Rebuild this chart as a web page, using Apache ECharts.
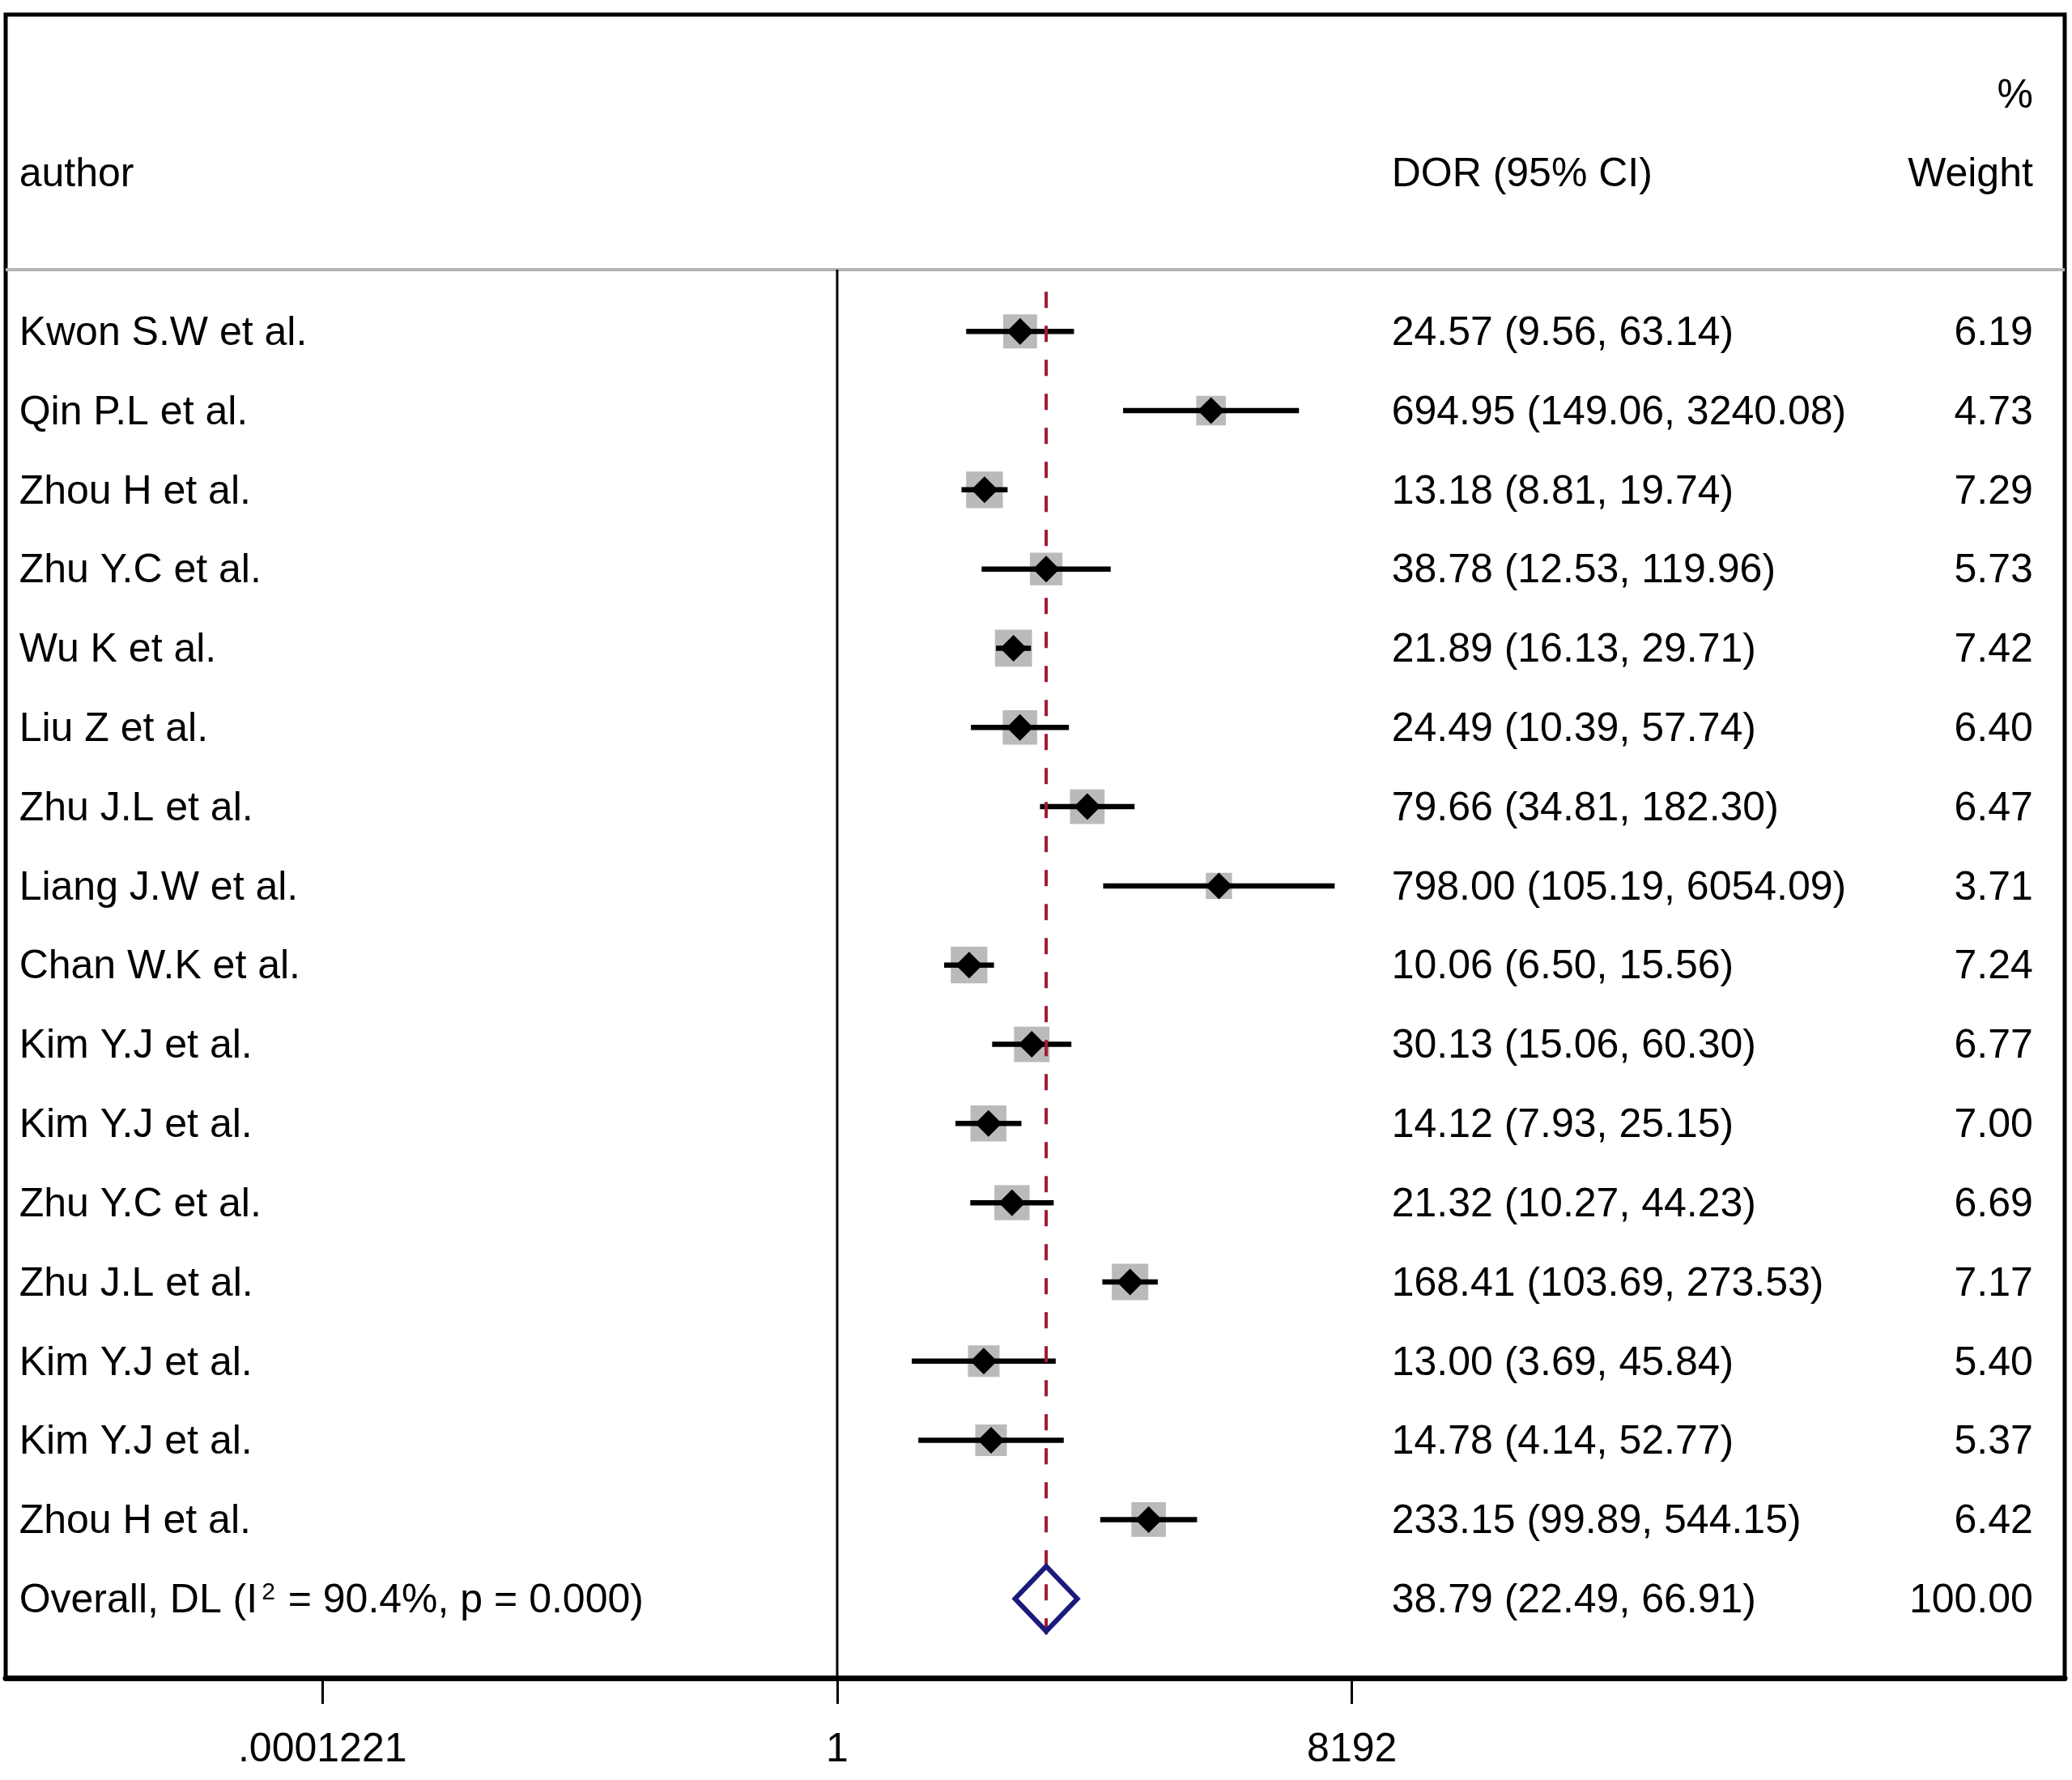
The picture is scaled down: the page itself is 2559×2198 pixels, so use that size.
<!DOCTYPE html>
<html>
<head>
<meta charset="utf-8">
<title>DOR forest plot</title>
<script src="https://cdn.jsdelivr.net/npm/echarts@6/dist/echarts.min.js"></script>
<style>
  html, body { margin: 0; padding: 0; background: #fff; }
  #main { width: 2559px; height: 2198px; }
</style>
</head>
<body>
<div id="main"></div>
<script>
// study data
var authors = ['Kwon S.W et al.', 'Qin P.L et al.', 'Zhou H et al.', 'Zhu Y.C et al.', 'Wu K et al.',
  'Liu Z et al.', 'Zhu J.L et al.', 'Liang J.W et al.', 'Chan W.K et al.', 'Kim Y.J et al.',
  'Kim Y.J et al.', 'Zhu Y.C et al.', 'Zhu J.L et al.', 'Kim Y.J et al.', 'Kim Y.J et al.', 'Zhou H et al.'];
var dor = [24.57, 694.95, 13.18, 38.78, 21.89, 24.49, 79.66, 798.00, 10.06, 30.13, 14.12, 21.32, 168.41, 13.00, 14.78, 233.15];
var ciLow = [9.56, 149.06, 8.81, 12.53, 16.13, 10.39, 34.81, 105.19, 6.50, 15.06, 7.93, 10.27, 103.69, 3.69, 4.14, 99.89];
var ciHigh = [63.14, 3240.08, 19.74, 119.96, 29.71, 57.74, 182.30, 6054.09, 15.56, 60.30, 25.15, 44.23, 273.53, 45.84, 52.77, 544.15];
var weight = [6.19, 4.73, 7.29, 5.73, 7.42, 6.40, 6.47, 3.71, 7.24, 6.77, 7.00, 6.69, 7.17, 5.40, 5.37, 6.42];

var overallDor = [38.79, 22.49, 66.91];   // estimate, lower, upper
var overallWeight = 100.00;
var i2 = 90.4, pValue = 0.000;

// axis ticks (log2 scale: 2^-13, 2^0, 2^13)
var tickPos = [-13, 0, 13];
var tickLabels = ['.0001221', '1', '8192'];

var FONT = "'Liberation Sans', Arial, sans-serif";
var FS = 50;

var log2 = function (v) { return Math.log(v) / Math.LN2; };
var nRows = authors.length;

// text column positions, in log2 units of the x axis
var colAuthor = -20.66, colDor = 14, colWeight = 30.2;
var TXT_DY = 3;

var studyRows = authors.map(function (a, i) {
  return {
    value: [i],
    label: a,
    ci: dor[i].toFixed(2) + ' (' + ciLow[i].toFixed(2) + ', ' + ciHigh[i].toFixed(2) + ')',
    w: weight[i].toFixed(2)
  };
});

var chart = echarts.init(document.getElementById('main'));

function txt(x, y, s, align, rich) {
  var st = { text: s, x: x, y: y + TXT_DY, fill: '#000', fontSize: FS, fontFamily: FONT, align: align, verticalAlign: 'middle' };
  if (rich) st.rich = rich;
  return { type: 'text', style: st, silent: true };
}

option = {
  animation: false,
  backgroundColor: '#fff',
  grid: {
    left: 7, right: 9, top: 18, bottom: 126,
    show: true, borderColor: '#000', borderWidth: 5,
    outerBoundsMode: 'none'
  },
  xAxis: {
    type: 'value', min: -21, max: 31,
    axisLine: { show: true, onZero: false, lineStyle: { color: '#000', width: 7 } },
    axisTick: { show: true, customValues: tickPos, length: 32, lineStyle: { color: '#000', width: 3 } },
    axisLabel: {
      customValues: tickPos, margin: 64, color: '#000', fontSize: FS, fontFamily: FONT,
      formatter: function (v) { return tickLabels[tickPos.indexOf(v)]; }
    },
    splitLine: { show: false }
  },
  yAxis: { type: 'value', min: -4, max: 17, inverse: true, show: false },
  series: [
    {
      // header separator, null line at DOR = 1
      type: 'custom', silent: true, z: 1,
      data: [[0]],
      renderItem: function (params, api) {
        var a = api.coord([-21, -0.78]), b = api.coord([31, -0.78]);
        var c = api.coord([0, -0.78]), d = api.coord([0, 17]);
        return { type: 'group', children: [
          { type: 'line', shape: { x1: a[0], y1: a[1], x2: b[0], y2: b[1] }, style: { stroke: '#b4b4b4', lineWidth: 4 } },
          { type: 'line', shape: { x1: c[0], y1: c[1], x2: d[0], y2: d[1] }, style: { stroke: '#000', lineWidth: 3 } }
        ] };
      }
    },
    {
      // weight boxes
      type: 'scatter', silent: true, z: 2,
      symbol: 'rect',
      symbolSize: function (val) { return 16.8 * Math.sqrt(val[2]); },
      itemStyle: { color: '#bababa', opacity: 1 },
      data: dor.map(function (d, i) { return [log2(d), i, weight[i]]; })
    },
    {
      // confidence intervals
      type: 'custom', silent: true, z: 3,
      data: dor.map(function (d, i) { return [log2(ciLow[i]), log2(ciHigh[i]), i]; }),
      renderItem: function (params, api) {
        var p1 = api.coord([api.value(0), api.value(2)]);
        var p2 = api.coord([api.value(1), api.value(2)]);
        return { type: 'line', shape: { x1: p1[0], y1: p1[1], x2: p2[0], y2: p2[1] }, style: { stroke: '#000', lineWidth: 6.5 } };
      }
    },
    {
      // overall estimate line
      type: 'custom', silent: true, z: 4,
      data: [[log2(overallDor[0])]],
      renderItem: function (params, api) {
        var p1 = api.coord([api.value(0), -0.5]);
        var p2 = api.coord([api.value(0), nRows + 0.5]);
        return { type: 'line', shape: { x1: p1[0], y1: p1[1], x2: p2[0], y2: p2[1] },
          style: { stroke: '#a01c32', lineWidth: 4, lineDash: [20, 22] } };
      }
    },
    {
      // point estimates
      type: 'scatter', silent: true, z: 5,
      symbol: 'diamond', symbolSize: 33,
      itemStyle: { color: '#000', opacity: 1 },
      data: dor.map(function (d, i) { return [log2(d), i]; })
    },
    {
      // pooled diamond
      type: 'custom', silent: true, z: 6,
      data: [[log2(overallDor[1]), log2(overallDor[0]), log2(overallDor[2]), nRows]],
      renderItem: function (params, api) {
        var r = api.value(3), h = 0.41;
        var pts = [
          api.coord([api.value(0), r]),
          api.coord([api.value(1), r - h]),
          api.coord([api.value(2), r]),
          api.coord([api.value(1), r + h])
        ];
        return { type: 'polygon', shape: { points: pts }, style: { fill: 'none', stroke: '#1b1b7d', lineWidth: 6 } };
      }
    },
    {
      // table text
      type: 'custom', silent: true, z: 7,
      data: studyRows.concat([{ value: [nRows], overall: true }]),
      renderItem: function (params, api) {
        var i = api.value(0);
        var y = api.coord([0, i])[1];
        var xa = api.coord([colAuthor, i])[0];
        var xd = api.coord([colDor, i])[0];
        var xw = api.coord([colWeight, i])[0];
        var kids = [];
        if (i < nRows) {
          var r = studyRows[i];
          kids.push(txt(xa, y, r.label, 'left'));
          kids.push(txt(xd, y, r.ci, 'left'));
          kids.push(txt(xw, y, r.w, 'right'));
        } else {
          kids.push(txt(xa, y, 'Overall, DL (I{sup|2} = ' + i2.toFixed(1) + '%, p = ' + pValue.toFixed(3) + ')', 'left',
            { sup: { fontSize: 30, fontFamily: FONT, fill: '#000', verticalAlign: 'top', padding: [0, 2, 0, 5] } }));
          kids.push(txt(xd, y, overallDor[0].toFixed(2) + ' (' + overallDor[1].toFixed(2) + ', ' + overallDor[2].toFixed(2) + ')', 'left'));
          kids.push(txt(xw, y, overallWeight.toFixed(2), 'right'));
        }
        if (i === 0) {
          var yh = api.coord([0, -2])[1], yp = api.coord([0, -3])[1];
          kids.push(txt(xa, yh, 'author', 'left'));
          kids.push(txt(xd, yh, 'DOR (95% CI)', 'left'));
          kids.push(txt(xw, yh, 'Weight', 'right'));
          kids.push(txt(xw, yp, '%', 'right'));
        }
        return { type: 'group', children: kids };
      }
    }
  ]
};

chart.setOption(option);
</script>
</body>
</html>
